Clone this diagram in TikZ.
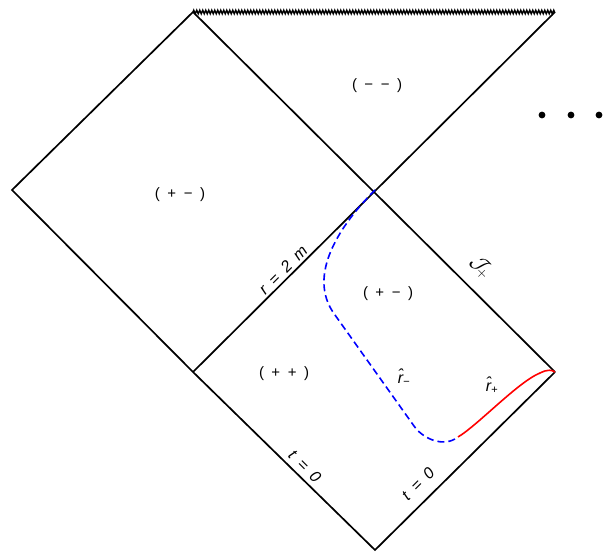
\documentclass[tikz,border=0pt]{standalone}
\usepackage{fontspec}
\setmainfont{Liberation Sans}
\usetikzlibrary{decorations.pathmorphing}

\begin{document}
\begin{tikzpicture}[x=1pt,y=-1pt,
        edge/.style={line width=1.7pt},
        sing/.style={line width=1.4pt, decorate, decoration={zigzag, segment length=3pt, amplitude=1.8pt}},
        region/.style={font=\fontsize{15}{17}\selectfont},
        lbl/.style={font=\fontsize{16}{18}\selectfont\itshape, inner sep=1pt}
    ]
    \useasboundingbox (0,0) rectangle (612,553);
    % corners of the diagram
    \coordinate (tl) at (193,12);
    \coordinate (tr) at (555,12);
    \coordinate (lft) at (12,190);
    \coordinate (mid) at (375,190);
    \coordinate (rgt) at (555,372);
    \coordinate (low) at (193,372);
    \coordinate (bot) at (375,550);
    \coordinate (join) at (458,437);
    \coordinate (bend) at (540,373);

    \draw[edge] (tl) -- (rgt);
    \draw[edge] (tr) -- (low);
    \draw[edge] (tl) -- (lft) -- (low) -- (bot) -- (rgt);
    \draw[sing] (tl) -- (tr);

    % trajectories
    \draw[blue, line width=1.6pt, dash pattern=on 7pt off 4pt] (mid) .. controls (342,223) and (305,275) .. (335,315)
        -- (414,426) .. controls (423,439) and (444,448) .. (join);
    \draw[red, line width=1.6pt] (join) .. controls (478,425) and (518,382) .. (bend)
        .. controls (548,369) and (552,370) .. (rgt);

    % regions
    \node[region] (rmm) at (377,86) {(\enspace−\enspace−\enspace)};
    \node[region] (rpmL) at (180,195) {(\enspace+\enspace−\enspace)};
    \node[region] (rpmR) at (388,294) {(\enspace+\enspace−\enspace)};
    \node[region] (rpp) at (284,374) {(\enspace+\enspace+\enspace)};

    % labels
    \node[lbl, rotate=45] (hor) at (283,270) {r\enspace=\enspace2\enspace m};
    \node[lbl, rotate=-45] (scri) at (481,267) {\fontsize{20}{22}\selectfont$\mathcal{J}_{\!+}$};
    \node[lbl, rotate=-45] (tzL) at (305,466) {t\enspace=\enspace0};
    \node[lbl, rotate=45] (tzR) at (418,484) {t\enspace=\enspace0};
    \node[lbl] (rm) at (404,377) {\^{r}\textsubscript{−}};
    \node[lbl] (rp) at (492,385) {\^{r}\textsubscript{+}};

    \foreach \x in {542,571,599}
        \fill (\x,115) circle (3.4);
\end{tikzpicture}
\end{document}
